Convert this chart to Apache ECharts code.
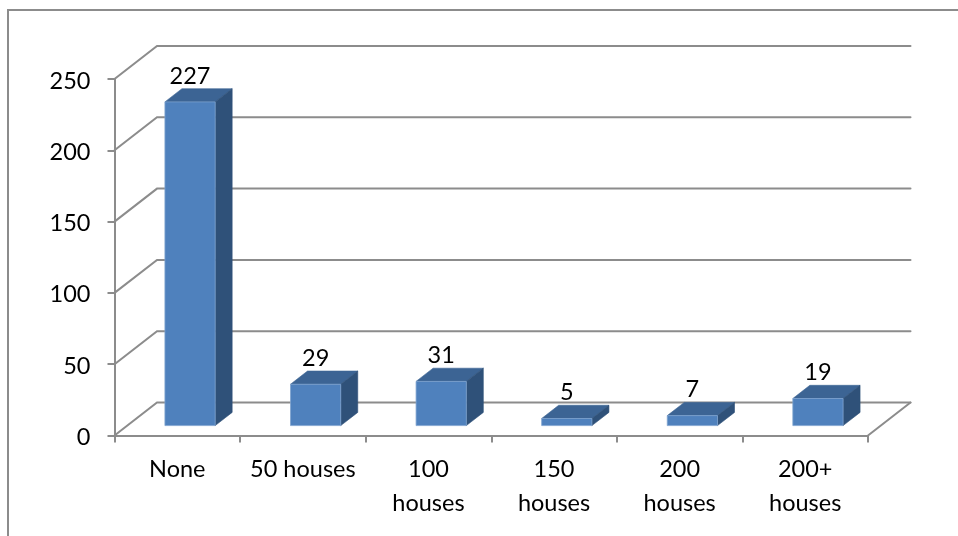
<!DOCTYPE html>
<html>
<head>
<meta charset="utf-8">
<style>html,body{margin:0;padding:0;background:#fff}#c{width:958px;height:536px}</style>
<script src="https://cdn.jsdelivr.net/npm/echarts@6/dist/echarts.min.js"></script>
</head>
<body>
<div id="c"></div>
<script>
const categories = ['None', '50 houses', '100\nhouses', '150\nhouses', '200\nhouses', '200+\nhouses'];
const values = [227, 29, 31, 5, 7, 19];
const gridValues = [0, 50, 100, 150, 200, 250];

const GREY = '#8c8c8c';
const FONT = 'Lato, Carlito, "Open Sans", sans-serif';
const FONT_SIZE = 23.5;
const LINE_W = 2;
const DEPTH_X = 42.5, DEPTH_Y = -33;      // full floor depth offset
const BAR_NEAR = 0.3, BAR_DEPTH = 0.4, BAR_W = 0.4;

function wall(params, api) {
  const v = api.value(0);
  const cs = params.coordSys;
  const y = api.coord([0, v])[1];
  const x0 = cs.x, x1 = cs.x + cs.width;
  const children = [{
    type: 'polyline',
    shape: { points: [[x0, y], [x0 + DEPTH_X, y + DEPTH_Y], [x1 + DEPTH_X, y + DEPTH_Y]] },
    style: { stroke: GREY, lineWidth: LINE_W, fill: 'none', lineCap: 'round' }
  }];
  if (v === 0) {
    children.push({
      type: 'line',
      shape: { x1: x1, y1: y, x2: x1 + DEPTH_X, y2: y + DEPTH_Y },
      style: { stroke: GREY, lineWidth: LINE_W, lineCap: 'round' }
    });
  }
  return { type: 'group', children };
}

function bar3d(params, api) {
  const i = api.value(0), v = api.value(1);
  const band = api.size([1, 0])[0];
  const top = api.coord([i, v]), base = api.coord([i, 0]);
  const w = band * BAR_W;
  const ox = DEPTH_X * BAR_NEAR, oy = DEPTH_Y * BAR_NEAR;
  const dx = DEPTH_X * BAR_DEPTH, dy = DEPTH_Y * BAR_DEPTH;
  const l = top[0] - w / 2 + ox, r = top[0] + w / 2 + ox;
  const t = top[1] + oy, b = base[1] + oy;
  return {
    type: 'group',
    children: [
      { type: 'polygon', shape: { points: [[l, t], [r, t], [r + dx, t + dy], [l + dx, t + dy]] },
        style: { fill: '#3C6494', stroke: '#3C6494', lineWidth: 0.6 } },
      { type: 'polygon', shape: { points: [[r, t], [r + dx, t + dy], [r + dx, b + dy], [r, b]] },
        style: { fill: '#2F5179', stroke: '#2F5179', lineWidth: 0.6 } },
      { type: 'rect', shape: { x: l, y: t, width: r - l, height: b - t },
        style: { fill: '#4F81BD', stroke: '#7FA3CF', lineWidth: 0.8 } },
      { type: 'text', x: (l + r) / 2, y: t + dy - 12.5,
        style: { text: String(v), fill: '#000', font: FONT_SIZE + 'px ' + FONT, align: 'center', verticalAlign: 'middle' } }
    ]
  };
}

const chart = echarts.init(document.getElementById('c'), null, { renderer: 'canvas' });
chart.setOption({
  animation: false,
  backgroundColor: '#fff',
  tooltip: { show: false },
  graphic: [{
    type: 'polyline', silent: true, z: -10,
    shape: { points: [[8, 536], [8, 10], [958, 10]] },
    style: { fill: 'none', stroke: GREY, lineWidth: LINE_W }
  }],
  grid: { left: 114.5, right: 90, top: 79, bottom: 100.5, containLabel: false },
  xAxis: {
    type: 'category', data: categories,
    axisLine: { show: true, lineStyle: { color: GREY, width: LINE_W } },
    axisTick: { show: true, length: 7, lineStyle: { color: GREY, width: LINE_W } },
    axisLabel: { color: '#000', fontFamily: FONT, fontSize: FONT_SIZE, lineHeight: 34, margin: 17, interval: 0 }
  },
  yAxis: {
    type: 'value', min: 0, max: 250, interval: 50,
    axisLine: { show: true, lineStyle: { color: GREY, width: LINE_W } },
    axisTick: { show: true, length: 7, lineStyle: { color: GREY, width: LINE_W } },
    axisLabel: { color: '#000', fontFamily: FONT, fontSize: FONT_SIZE, margin: 24, verticalAlign: 'top', padding: [-10, 0, 0, 0] },
    splitLine: { show: false }
  },
  series: [
    { type: 'custom', silent: true, z: 1, clip: false, renderItem: wall,
      data: gridValues.map(v => [v]), encode: { y: 0 } },
    { type: 'custom', silent: true, z: 3, clip: false, renderItem: bar3d,
      data: values.map((v, i) => [i, v]), encode: { x: 0, y: 1 } }
  ]
});
</script>
</body>
</html>
